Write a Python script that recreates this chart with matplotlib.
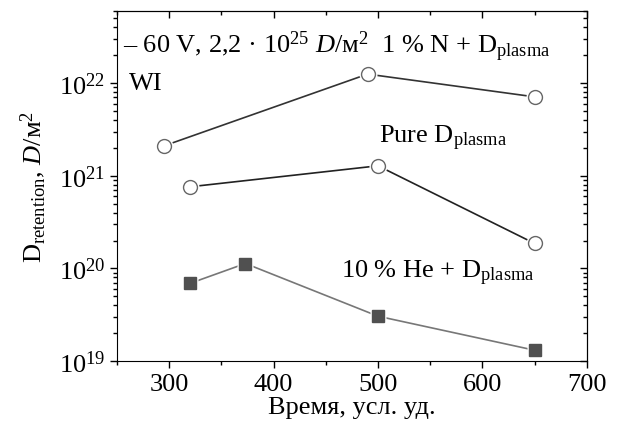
import numpy as np
import matplotlib
matplotlib.use('Agg')
import matplotlib.pyplot as plt

plt.rcParams['font.family'] = ['Liberation Serif', 'DejaVu Serif']
plt.rcParams['mathtext.fontset'] = 'custom'
plt.rcParams['mathtext.rm'] = 'Liberation Serif'
plt.rcParams['mathtext.it'] = 'Liberation Serif:italic'

# data
x_n = [295, 490, 650]
y_n = [2.1e21, 1.25e22, 7.1e21]
x_pure = [320, 500, 650]
y_pure = [7.6e20, 1.28e21, 1.86e20]
x_he = [320, 373, 500, 650]
y_he = [6.9e19, 1.13e20, 3.05e19, 1.31e19]

fs = 19
fig = plt.figure(figsize=(6.19, 4.27), dpi=100)
ax = fig.add_axes([0.189, 0.152, 0.759, 0.820])

def series(x, y, lc, mk, mfc, mec, ms):
    ax.plot(x, y, '-', color=lc, lw=1.2, zorder=2)
    ax.plot(x, y, mk, ls='none', ms=ms + 3, mfc='white', mec='none', zorder=3)
    ax.plot(x, y, mk, ls='none', ms=ms, mfc=mfc, mec=mec, mew=1.0, zorder=4)

series(x_n, y_n, '#333333', 'o', 'white', '#666666', 10)
series(x_pure, y_pure, '#222222', 'o', 'white', '#666666', 10)
series(x_he, y_he, '#777777', 's', '#505050', '#505050', 8.5)

ax.set_yscale('log')
ax.set_xlim(250, 700)
ax.set_ylim(1e19, 6e22)
ax.set_xticks([300, 400, 500, 600, 700])
ax.set_xticks(np.arange(250, 701, 50), minor=True)
ax.tick_params(which='both', direction='out', labelsize=fs, width=1, top=False, right=False)
ax.tick_params(which='major', length=5)
ax.tick_params(which='minor', length=3)

sx = ax.secondary_xaxis('top')
sx.set_xticks([300, 400, 500, 600, 700])
sx.set_xticks(np.arange(250, 701, 50), minor=True)
sx.tick_params(which='both', direction='in', labeltop=False, width=1)
sx.tick_params(which='major', length=5)
sx.tick_params(which='minor', length=3)
sy = ax.secondary_yaxis('right')
sy.tick_params(which='both', direction='in', labelright=False, width=1)
sy.tick_params(which='major', length=5)
sy.tick_params(which='minor', length=3)

ax.set_xlabel('Время, усл. уд.', fontsize=fs, labelpad=1)
ax.set_ylabel('D$_{\\rm retention}$, $D$/м$^2$', fontsize=fs, labelpad=8)

ax.text(0.013, 0.883, '– 60 V, 2,2 · 10$^{25}$ $D$/м$^2$  1 % N + D$_{\\rm plasma}$',
        transform=ax.transAxes, fontsize=fs, va='baseline')
ax.text(0.026, 0.777, 'WI', transform=ax.transAxes, fontsize=fs, va='baseline')
ax.text(0.557, 0.626, 'Pure D$_{\\rm plasma}$', transform=ax.transAxes, fontsize=fs, va='baseline')
ax.text(0.477, 0.24, '10 % He + D$_{\\rm plasma}$', transform=ax.transAxes, fontsize=fs, va='baseline')

fig.savefig('out.png', dpi=100)
